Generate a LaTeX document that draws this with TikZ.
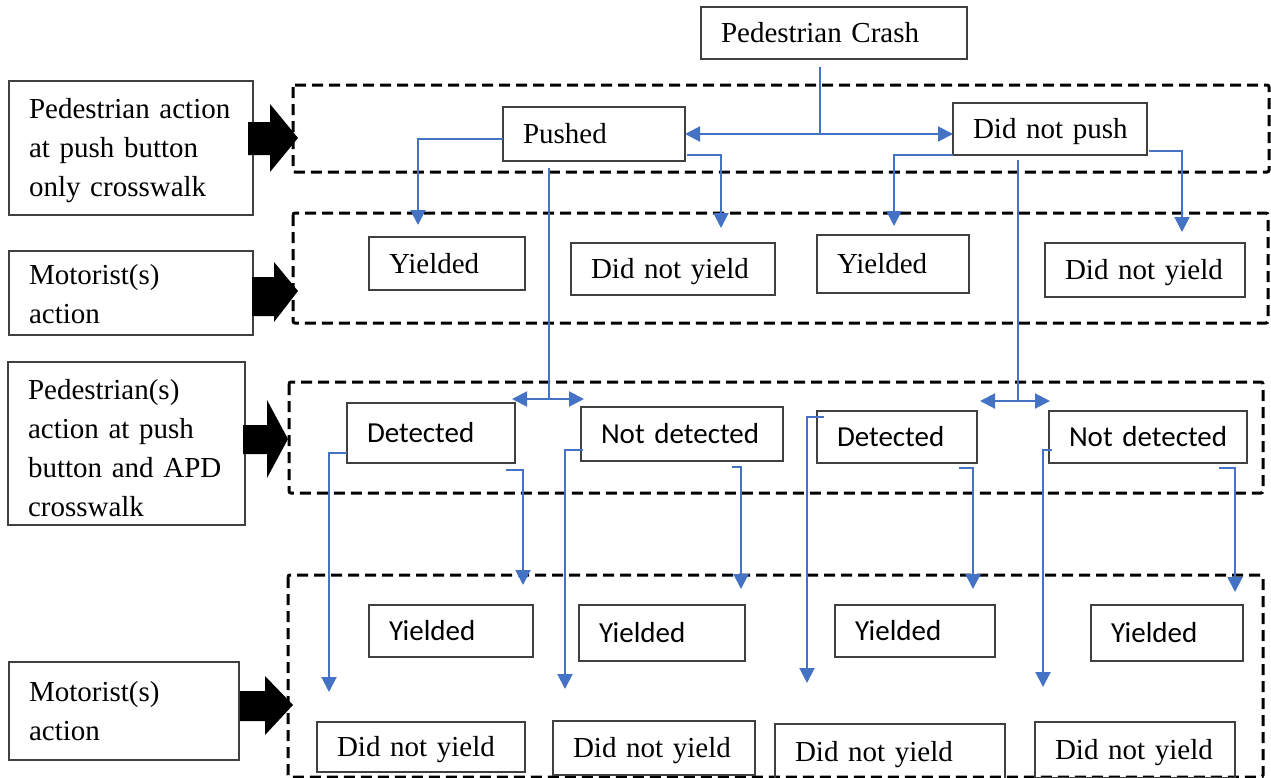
\documentclass[tikz,border=0pt]{standalone}
\usepackage{fontspec}
\setmainfont{Liberation Serif}
\newfontfamily\sansf{Carlito}
\usetikzlibrary{arrows.meta,calc}
\definecolor{cblue}{HTML}{4472C4}
\newcommand\fsz{\fontsize{29}{39}\selectfont}
\begin{document}
\begin{tikzpicture}[x=1pt,y=-1pt,
  bx/.code 2 args={\pgfmathsetmacro\bxw{#1-40}\edef\bxtmp{\noexpand\tikzset{minimum width=#1pt,minimum height=#2pt,text width=\bxw pt}}\bxtmp},
  lbl/.style={draw=black!75, line width=1.2pt, anchor=north west, outer sep=0pt, inner xsep=20pt, inner ysep=0pt, align=left, font=\fsz},
  box/.style={lbl, text height=26pt, text depth=7pt},
  sbox/.style={box, font=\sansf\fsz},
  dashbox/.style={draw=black, line width=3pt, dash pattern=on 11pt off 6pt, rounded corners=2pt},
  conn/.style={draw=cblue, line width=2pt},
  tip/.style={-{Triangle[length=15pt,width=15pt]}},
  dtip/.style={{Triangle[length=15pt,width=15pt]}-{Triangle[length=15pt,width=15pt]}},
  block/.style={fill=black}
]
\useasboundingbox (0,0) rectangle (1271,777);

% dashed containers
\draw[dashbox] (293,85) rectangle (1269,172);
\draw[dashbox] (293,213) rectangle (1268,323);
\draw[dashbox] (289,382) rectangle (1263,493);
\draw[dashbox] (288,575) rectangle (1263,777);

% left labels
\node[lbl, bx={244}{134}, text height=26pt] (L1) at (9,81) {Pedestrian action\\at push button\\only crosswalk};
\node[lbl, bx={244}{84}, text height=22pt] (L2) at (9,251) {Motorist(s)\\action};
\node[lbl, bx={237}{163}, text height=30pt] (L3) at (8,362) {Pedestrian(s)\\action at push\\button and APD\\crosswalk};
\node[lbl, bx={230}{98}] (L4) at (9,662) {Motorist(s)\\action};

% block arrows
\fill[block] (248,122) -- (270,122) -- (270,104) -- (298,138) -- (270,172) -- (270,155) -- (248,155) -- cycle;
\fill[block] (252,277) -- (274,277) -- (274,262) -- (298,291) -- (274,322) -- (274,316) -- (252,316) -- cycle;
\fill[block] (243,425) -- (267,425) -- (267,400) -- (288,439) -- (267,478) -- (267,454) -- (243,454) -- cycle;
\fill[block] (240,691) -- (265,691) -- (265,676) -- (293,705) -- (265,735) -- (265,721) -- (240,721) -- cycle;

% nodes
\node[box, bx={266}{52}] (crash) at (701,7) {\mbox{Pedestrian Crash}};
\node[box, bx={182}{54}] (pushed) at (503,107) {\mbox{Pushed}};
\node[box, bx={194}{52}] (dnp) at (953,103) {\mbox{Did not push}};

\node[box, bx={156}{53}] (y1) at (369,237) {\mbox{Yielded}};
\node[box, bx={204}{52}] (dny1) at (571,243) {\mbox{Did not yield}};
\node[box, bx={152}{58}] (y2) at (817,235) {\mbox{Yielded}};
\node[box, bx={200}{54}] (dny2) at (1045,243) {\mbox{Did not yield}};

\node[sbox, bx={168}{60}] (det1) at (347,403) {\mbox{Detected}};
\node[sbox, bx={202}{54}] (nd1) at (581,407) {\mbox{Not detected}};
\node[sbox, bx={160}{52}] (det2) at (817,411) {\mbox{Detected}};
\node[sbox, bx={198}{52}] (nd2) at (1049,411) {\mbox{Not detected}};

\node[sbox, bx={164}{52}] (yy1) at (369,605) {\mbox{Yielded}};
\node[sbox, bx={166}{56}] (yy2) at (579,605) {\mbox{Yielded}};
\node[sbox, bx={160}{52}] (yy3) at (835,605) {\mbox{Yielded}};
\node[sbox, bx={152}{56}] (yy4) at (1091,605) {\mbox{Yielded}};

\node[box, bx={208}{50}] (dd1) at (317,722) {\mbox{Did not yield}};
\node[box, bx={202}{54}] (dd2) at (553,721) {\mbox{Did not yield}};
\node[box, bx={230}{56}] (dd3) at (775,724) {\mbox{Did not yield}};
\node[box, bx={200}{56}] (dd4) at (1035,722) {\mbox{Did not yield}};

% connector coordinates
\coordinate (cs) at ([xshift=-14pt,yshift=-8pt]crash.south);
\coordinate (t1) at (418,225);
\coordinate (t2) at (721,228);
\coordinate (t3) at (894,226);
\coordinate (t4) at (1182,232);
\coordinate (h1) at (549,399);
\coordinate (h1l) at (512,399);
\coordinate (h1r) at (584,399);
\coordinate (h2) at (1018,401);
\coordinate (h2l) at (980,401);
\coordinate (h2r) at (1050,401);
\coordinate (b1) at (329,692);
\coordinate (b2) at (523,585);
\coordinate (b3) at (565,689);
\coordinate (b4) at (741,589);
\coordinate (b5) at (807,683);
\coordinate (b6) at (973,589);
\coordinate (b7) at (1043,687);
\coordinate (b8) at (1235,592);

% top level
\draw[conn] (cs) -- (cs |- pushed.east);
\draw[conn,tip] (cs |- pushed.east) -- (pushed.east);
\draw[conn,tip] (cs |- pushed.east) -- (dnp.west |- pushed.east);

% from Pushed
\draw[conn,tip] ([yshift=-5pt]pushed.west) -| (t1);
\draw[conn,tip] ([xshift=2pt,yshift=6pt]pushed.south east) -| (t2);
\draw[conn] ([xshift=-45pt,yshift=-7pt]pushed.south) -- (h1);
\draw[conn,dtip] (h1l) -- (h1r);

% from Did not push
\draw[conn,tip] (dnp.south west) -| (t3);
\draw[conn,tip] ([xshift=2pt,yshift=4pt]dnp.south east) -| (t4);
\draw[conn] ([xshift=-32pt,yshift=-5pt]dnp.south) -- (h2);
\draw[conn,dtip] (h2l) -- (h2r);

% from detection row
\draw[conn,tip] ([yshift=10pt]det1.south west) -| (b1);
\draw[conn,tip] ([xshift=-9pt,yshift=-7pt]det1.south east) -| (b2);
\draw[conn,tip] ([xshift=2pt,yshift=11pt]nd1.south west) -| (b3);
\draw[conn,tip] ([xshift=-51pt,yshift=-6pt]nd1.south east) -| (b4);
\draw[conn,tip] ([xshift=7pt,yshift=-6pt]det2.north west) -| (b5);
\draw[conn,tip] ([xshift=-18pt,yshift=-5pt]det2.south east) -| (b6);
\draw[conn,tip] ([xshift=3pt,yshift=13pt]nd2.south west) -| (b7);
\draw[conn,tip] ([xshift=-28pt,yshift=-5pt]nd2.south east) -| (b8);
\end{tikzpicture}
\end{document}
